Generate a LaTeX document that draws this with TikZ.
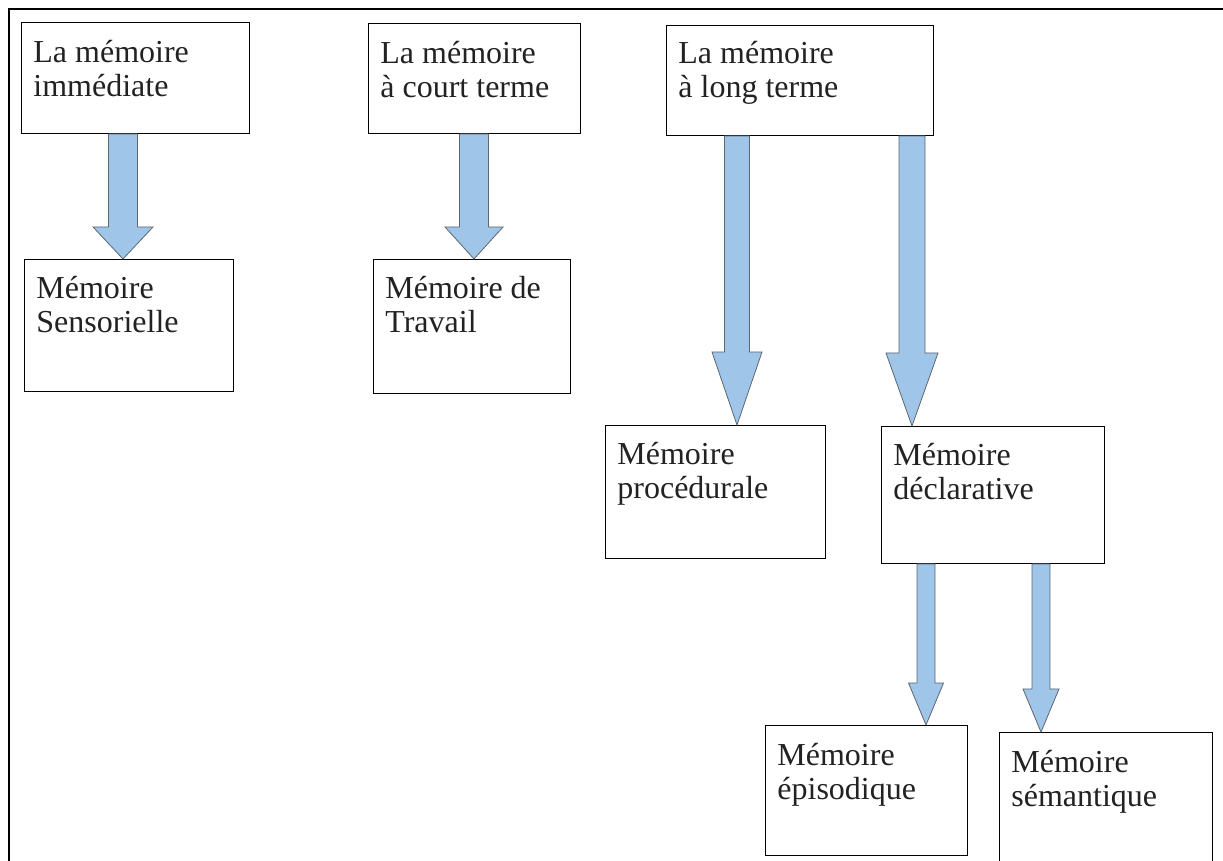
\documentclass[tikz,border=0pt]{standalone}
\usepackage{fontspec}
\setmainfont{Liberation Serif}
\definecolor{arrowblue}{HTML}{9FC5E8}
\definecolor{arrowedge}{HTML}{5F6670}
\definecolor{textgray}{HTML}{222222}
% block arrow: from, to, x, half shaft, half head, head length (px)
\newcommand\memarrow[6]{%
  \coordinate (top) at (#3,0 |- #1.south);
  \coordinate (tip) at (#3,0 |- #2.north);
  \draw[blockarrow]
    ([xshift=-#4*0.5pt]top) -- ([xshift=#4*0.5pt]top)
    -- ([xshift=#4*0.5pt,yshift=#6*0.5pt]tip)
    -- ([xshift=#5*0.5pt,yshift=#6*0.5pt]tip)
    -- (tip)
    -- ([xshift=-#5*0.5pt,yshift=#6*0.5pt]tip)
    -- ([xshift=-#4*0.5pt,yshift=#6*0.5pt]tip) -- cycle;}
\begin{document}
\begin{tikzpicture}[x=0.5pt,y=-0.5pt,
    box/.style 2 args={draw, line width=0.5pt, anchor=north west, inner sep=0pt,
      minimum width=#1*0.5pt, minimum height=#2*0.5pt},
    txt/.style={anchor=base west, align=left, inner sep=0pt, text=textgray,
      font=\fontsize{16}{17}\selectfont},
    blockarrow/.style={fill=arrowblue, draw=arrowedge, line width=0.4pt, line join=miter}]
  \useasboundingbox (0,0) rectangle (1223,861);
  \clip (0,0) rectangle (1223,861);
  \draw[line width=0.6pt] (9,861) -- (9,9) -- (1223,9);
  % boxes
  \node[box={228}{111}] (imm) at (21,22) {};
  \node[box={209}{132}] (sens) at (24,259) {};
  \node[box={212}{110}] (court) at (368,23) {};
  \node[box={197}{134}] (trav) at (373,259) {};
  \node[box={267}{110}] (long) at (666,25) {};
  \node[box={220}{133}] (proc) at (605,425) {};
  \node[box={223}{137}] (decl) at (881,426) {};
  \node[box={202}{130}] (epis) at (765,725) {};
  \node[box={213}{170}] (sema) at (999,732) {};
  % texts (base = last line)
  \node[txt] (imm-t) at ([shift={(12,75)}]imm.north west) {La mémoire\\immédiate};
  \node[txt] (sens-t) at ([shift={(12,74)}]sens.north west) {Mémoire\\Sensorielle};
  \node[txt] (court-t) at ([shift={(12,75)}]court.north west) {La mémoire\\à court terme};
  \node[txt] (trav-t) at ([shift={(12,74)}]trav.north west) {Mémoire de\\Travail};
  \node[txt] (long-t) at ([shift={(12,73)}]long.north west) {La mémoire\\à long terme};
  \node[txt] (proc-t) at ([shift={(12,74)}]proc.north west) {Mémoire\\procédurale};
  \node[txt] (decl-t) at ([shift={(12,74)}]decl.north west) {Mémoire\\déclarative};
  \node[txt] (epis-t) at ([shift={(12,74)}]epis.north west) {Mémoire\\épisodique};
  \node[txt] (sema-t) at ([shift={(12,74)}]sema.north west) {Mémoire\\sémantique};
  % arrows
  \memarrow{imm}{sens}{123}{14.5}{30}{32}
  \memarrow{court}{trav}{474}{14.5}{29}{32}
  \memarrow{long}{proc}{737}{12.5}{25}{73}
  \memarrow{long}{decl}{912}{13}{26}{73}
  \memarrow{decl}{epis}{926}{9}{17.5}{42}
  \memarrow{decl}{sema}{1041}{9}{18}{43}
\end{tikzpicture}
\end{document}
